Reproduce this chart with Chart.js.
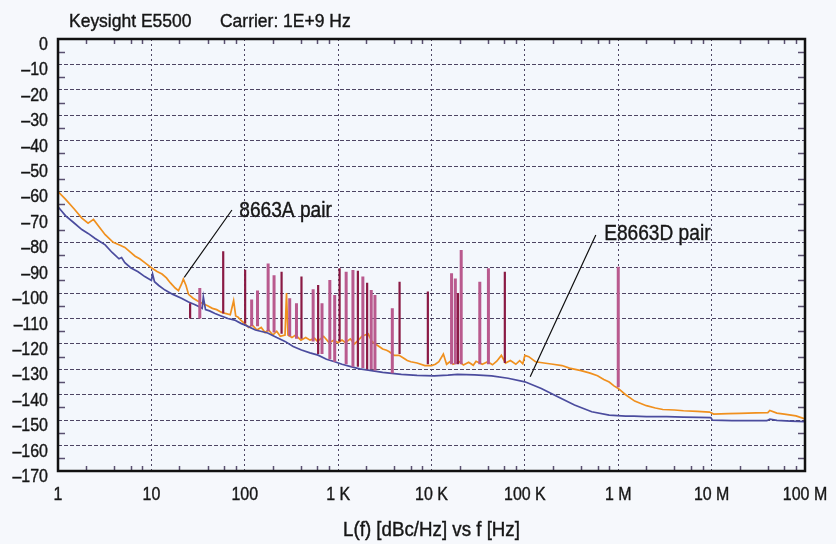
<!DOCTYPE html>
<html>
<head>
<meta charset="utf-8">
<title>Phase noise</title>
<script src="https://cdn.jsdelivr.net/npm/chart.js@4.4.1/dist/chart.umd.min.js"></script>
<style>
  html, body { margin: 0; padding: 0; background: #f6f8fc; }
  canvas { display: block; }
</style>
</head>
<body>
<canvas id="noiseChart" width="836" height="544"></canvas>
<script>
// SSB phase noise of two source pairs, E5500 at 1 GHz carrier

const FONT = "'Liberation Sans', Arial, sans-serif";

const xTickValues = [1, 10, 100, 1e3, 1e4, 1e5, 1e6, 1e7, 1e8];
const xTickLabels = ['1', '10', '100', '1 K', '10 K', '100 K', '1 M', '10 M', '100 M'];
const yTickValues = [0, -10, -20, -30, -40, -50, -60, -70, -80, -90, -100, -110, -120, -130, -140, -150, -160, -170];
const yTickLabels = ['0', '\u201310', '\u201320', '\u201330', '\u201340', '\u201350', '\u201360', '\u201370', '\u201380',
  '\u201390', '\u2013100', '\u2013110', '\u2013120', '\u2013130', '\u2013140', '\u2013150', '\u2013160', '\u2013170'];

// 8663A pair trace
const freqA = [1, 1.2, 1.5, 1.8, 2.1, 2.4, 2.7, 3.2, 3.9, 4.5, 5.2, 6, 6.7, 7.5, 8.5, 10, 11.5, 13, 14.5, 16,
  18, 19.5, 21, 22, 23.5, 25, 28, 31, 35, 40, 45, 50, 56, 62, 70, 76, 80, 85, 90,
  100, 110, 120, 135, 150, 165, 180, 200, 220, 240, 270, 280, 290, 320, 350, 400, 450, 500, 560, 600,
  700, 800, 900, 1000, 1100, 1200, 1350, 1500, 1650, 1800, 2100, 2300, 2500, 2750, 3000, 3300, 3500, 4000, 4500, 5000,
  5500, 6000, 7000, 8500, 10000,
  11000, 12000, 13400, 14500, 16000, 17000, 20000, 22000, 25000, 28000, 30000, 35000, 40000, 45000, 50000, 56000, 62000, 70000, 80000, 88000,
  95000, 100000, 110000,
  130000, 160000, 200000, 250000, 300000, 400000, 500000, 600000, 700000, 800000, 900000, 1e6, 1.2e6, 1.5e6, 2e6, 2.5e6, 3e6, 4e6, 5e6, 7e6,
  9.5e6, 1.05e7, 1.5e7, 2e7, 3e7, 4e7, 4.2e7, 5e7, 6e7, 8e7, 1e8];
const levelA = [-60, -63, -67, -70.5, -72.5, -71, -73.5, -77, -80, -81, -82, -84, -85.5, -86.5, -88, -90, -91.5, -92.5, -94, -96,
  -98, -99, -96.5, -94.5, -97, -100.5, -102, -103, -104, -105, -106, -106.5, -107.5, -108, -108.5, -103, -109, -109.5, -110.5,
  -112, -113.5, -112.5, -114.5, -113.5, -115.5, -114.5, -116.5, -115, -117, -116.5, -100, -116.5, -117.5, -116.5, -118.5, -117.5, -118.5, -117.8, -119,
  -117, -119.5, -118.5, -119.5, -118.5, -119.5, -118, -120, -118.5, -117, -116, -119, -120, -121, -122, -122.5, -123, -124.5, -124.5, -125.5,
  -126.5, -127, -127.5, -128.5, -128.5,
  -128, -127, -124, -128, -126.8, -128, -127, -128.3, -127.2, -128.4, -126.8, -128, -127, -128.2, -126.8, -124.5, -127.5, -126.5, -128, -126.6,
  -127.8, -124.5, -125,
  -127, -127.5, -128, -128.5, -129.5, -130.5, -131.5, -132.5, -134, -135, -136.5, -137.5, -140, -142.5, -144.3, -145.2, -145.8, -146, -146.3, -146.5,
  -146.8, -147.6, -147.4, -147.3, -147.1, -147, -146.2, -147.2, -147.6, -148.3, -149.5];

// E8663D pair trace
const freqD = [1, 1.2, 1.5, 1.8, 2.1, 2.5, 3.2, 3.8, 4.5, 4.8, 5.2, 6, 7.2, 8.5, 10, 10.3, 10.8, 12, 14, 17,
  21, 25, 29, 33, 35, 36, 38, 42, 48, 56, 66, 78, 92, 100, 130, 176, 220, 270, 330, 405,
  500, 610, 750, 920, 1100, 1400, 1700, 2100, 3000, 4750, 7000, 10700, 15000, 19000, 29000, 44000, 66000, 100000, 150000, 225000,
  340000, 520000, 800000, 1.2e6, 1.47e6, 2e6, 3.3e6, 5e6, 7.3e6, 9.8e6, 1.02e7, 1.65e7, 2.5e7, 3.9e7, 4.2e7, 5e7, 7e7, 1e8];
const levelD = [-66, -69.5, -72.5, -75, -76.5, -78.5, -81, -84, -86.5, -86, -88, -90, -91.6, -93.5, -95, -92.5, -95.5, -97, -98.8, -100.5,
  -102, -103.5, -104.5, -105.5, -106, -101.5, -106.5, -107, -108, -109, -110, -110.6, -112, -112.5, -114.5, -115.7, -117.5, -119, -121, -122.4,
  -123.5, -124.4, -126, -127, -128, -129, -129.8, -130.3, -131.2, -132, -132.4, -132.6, -132.3, -132, -132.2, -132.6, -133.5, -134.9, -137.5, -140.8,
  -144, -146.7, -148, -148.4, -148.4, -148.6, -148.6, -148.8, -148.9, -149, -150, -150.2, -150.2, -150.2, -149.6, -150.1, -150.4, -150.6];

// discrete spurs, strong (dark) and weaker (light) ones
const spurDarkFreq = [26, 58.8, 101, 248, 405, 611, 1037, 1628, 2045, 4550, 9140, 19200, 61000];
const spurDarkPeak = [-104, -83.5, -90.8, -91.6, -93.5, -96.8, -90.2, -91.2, -95.9, -95.5, -99.4, -100, -91.6];
const spurDarkBase = [-110, -108, -112, -116, -118, -124, -119, -129, -130, -124, -128, -128, -127.5];

const spurLightFreq = [33, 118.6, 137, 178, 206, 303, 358, 540, 672, 815, 919, 1219, 1441, 1840, 2262, 2480, 3804,
  16400, 18000, 20800, 32900, 40700, 1.0e6];
const spurLightPeak = [-98, -102.5, -99, -88.3, -93, -102, -104, -98.5, -104, -94.8, -100.7, -91.6, -90.9, -93.5, -98.8, -100.7, -106,
  -92.2, -94.2, -83, -95.5, -90.2, -89.6];
const spurLightBase = [-110, -113, -113, -115, -115.5, -117, -118, -119, -124, -126, -127, -128, -129, -129.5, -130, -130.5, -131.5,
  -128, -128, -128, -128, -128, -137];

// callout labels with leader lines (text baseline anchor, line start, line end)
const calloutText = ['8663A pair', 'E8663D pair'];
const calloutFreq = [87.3, 706000];
const calloutLevel = [-69.9, -79.1];
const leaderFromFreq = [72.9, 575000];
const leaderFromLevel = [-67.3, -77.1];
const leaderToFreq = [22.5, 114000];
const leaderToLevel = [-93.8, -132.9];

const trace = (fs, ls) => fs.map((f, i) => ({ x: f, y: ls[i] }));
const spikes = (fs, peaks, bases) =>
  fs.flatMap((f, i) => [{ x: f, y: bases[i] }, { x: f, y: peaks[i] }, { x: f, y: null }]);

// condensed text: regular face squeezed horizontally, lightly stroked for weight
function label(ctx, text, x, y, size, squeeze, align) {
  ctx.save();
  ctx.translate(x, y);
  ctx.scale(squeeze, 1);
  ctx.font = `${size}px ${FONT}`;
  ctx.textAlign = align;
  ctx.textBaseline = 'alphabetic';
  ctx.fillStyle = '#161616';
  ctx.strokeStyle = '#161616';
  ctx.lineWidth = 0.4;
  ctx.fillText(text, 0, 0);
  ctx.strokeText(text, 0, 0);
  ctx.restore();
}

const decorations = {
  id: 'decorations',
  beforeDraw(chart) {
    const { ctx, chartArea: a } = chart;
    ctx.save();
    ctx.fillStyle = '#f6f8fc';
    ctx.fillRect(0, 0, chart.width, chart.height);
    ctx.fillStyle = '#f3f7fc';
    ctx.fillRect(a.left, a.top, a.right - a.left, a.bottom - a.top);
    ctx.restore();
  },
  afterDatasetsDraw(chart) {
    const { ctx, chartArea: a, scales: { x, y } } = chart;
    ctx.save();

    // minor ticks on all four sides
    ctx.strokeStyle = '#5a5070';
    ctx.lineWidth = 1.5;
    ctx.beginPath();
    xTickValues.slice(0, -1).forEach(d => [2, 4, 6, 8].forEach(m => {
      const px = Math.round(x.getPixelForValue(d * m)) + 0.5;
      ctx.moveTo(px, a.bottom); ctx.lineTo(px, a.bottom - 5);
      ctx.moveTo(px, a.top); ctx.lineTo(px, a.top + 5);
    }));
    yTickValues.slice(1).forEach(v => {
      const py = Math.round(y.getPixelForValue(v + 5)) + 0.5;
      ctx.moveTo(a.left, py); ctx.lineTo(a.left + 7, py);
      ctx.moveTo(a.right, py); ctx.lineTo(a.right - 7, py);
    });
    ctx.stroke();

    // plot frame
    ctx.strokeStyle = '#111';
    ctx.lineWidth = 2.5;
    ctx.strokeRect(a.left, a.top, a.right - a.left, a.bottom - a.top);

    // callout leaders
    ctx.lineWidth = 1.2;
    ctx.beginPath();
    calloutText.forEach((t, i) => {
      ctx.moveTo(x.getPixelForValue(leaderFromFreq[i]), y.getPixelForValue(leaderFromLevel[i]));
      ctx.lineTo(x.getPixelForValue(leaderToFreq[i]), y.getPixelForValue(leaderToLevel[i]));
    });
    ctx.stroke();
    ctx.restore();

    calloutText.forEach((t, i) => {
      label(ctx, t, x.getPixelForValue(calloutFreq[i]), y.getPixelForValue(calloutLevel[i]), 22, 0.87, 'left');
    });

    // axis labels
    xTickValues.forEach((v, i) => {
      label(ctx, xTickLabels[i], x.getPixelForValue(v), a.bottom + 29, 19, 0.84, 'center');
    });
    yTickValues.forEach((v, i) => {
      label(ctx, yTickLabels[i], a.left - 10, y.getPixelForValue(v) + 11, 19, 0.84, 'right');
    });
    label(ctx, 'L(f) [dBc/Hz] vs f [Hz]', (a.left + a.right) / 2, a.bottom + 64.5, 19.5, 0.96, 'center');

    // header
    label(ctx, 'Keysight E5500', 69, 26.5, 18.6, 0.94, 'left');
    label(ctx, 'Carrier: 1E+9 Hz', 220, 26.5, 18.6, 0.94, 'left');
  }
};

new Chart(document.getElementById('noiseChart'), {
  type: 'line',
  data: {
    datasets: [
      {
        label: '8663A pair',
        data: trace(freqA, levelA),
        borderColor: '#f0901e',
        borderWidth: 1.7,
        order: 3
      },
      {
        label: 'E8663D pair',
        data: trace(freqD, levelD),
        borderColor: '#4b4c9e',
        borderWidth: 1.7,
        order: 2
      },
      {
        label: 'spurs (light)',
        data: spikes(spurLightFreq, spurLightPeak, spurLightBase),
        borderColor: '#b95a8e',
        borderWidth: 3,
        order: 1
      },
      {
        label: 'spurs (dark)',
        data: spikes(spurDarkFreq, spurDarkPeak, spurDarkBase),
        borderColor: '#8a1a44',
        borderWidth: 2.2,
        order: 0
      }
    ]
  },
  options: {
    responsive: false,
    animation: false,
    devicePixelRatio: 1,
    layout: { padding: { top: 39, right: 31, left: 0, bottom: 0 } },
    plugins: { legend: { display: false }, tooltip: { enabled: false } },
    elements: { point: { radius: 0 }, line: { tension: 0 } },
    scales: {
      x: {
        type: 'logarithmic',
        min: 1,
        max: 1e8,
        afterBuildTicks: s => { s.ticks = xTickValues.map(v => ({ value: v })); },
        afterFit: s => { s.height = 73; },
        ticks: { display: false },
        grid: { color: '#4d4563', lineWidth: 1, drawTicks: false },
        border: { display: false, dash: [2, 3] }
      },
      y: {
        type: 'linear',
        min: -170,
        max: 0,
        afterBuildTicks: s => { s.ticks = yTickValues.map(v => ({ value: v })); },
        afterFit: s => { s.width = 58; },
        ticks: { display: false },
        grid: { color: '#4d4563', lineWidth: 1, drawTicks: false },
        border: { display: false, dash: [4, 2] }
      }
    }
  },
  plugins: [decorations]
});
</script>
</body>
</html>
